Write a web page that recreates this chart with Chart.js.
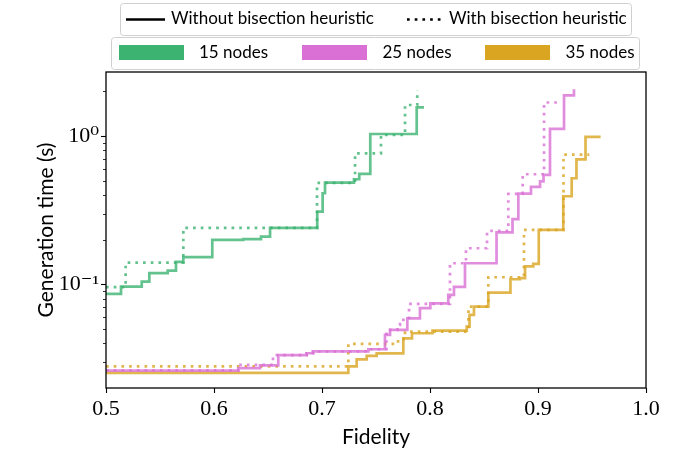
<!DOCTYPE html>
<html>
<head>
<meta charset="utf-8">
<script src="https://cdn.jsdelivr.net/npm/chart.js@4.4.0/dist/chart.umd.min.js"></script>
<style>
	html, body { margin: 0; padding: 0; background: #fff; }
</style>
</head>
<body>
<canvas id="chart" width="681" height="457"></canvas>
<script>
	// fidelity (x) / generation time in seconds (y), step points
	var fid15Without = [0.5, 0.5139, 0.5331, 0.5401, 0.5571, 0.5648, 0.5716, 0.5984, 0.6271, 0.6435, 0.6519, 0.6956, 0.7006, 0.7028, 0.7296, 0.7345, 0.7447, 0.7877, 0.7944];
	var time15Without = [0.0861, 0.0965, 0.1043, 0.1188, 0.1237, 0.1416, 0.1523, 0.1991, 0.2014, 0.2097, 0.2399, 0.309, 0.411, 0.4846, 0.5108, 0.5546, 1.031, 1.561, 1.561];
	var fid15With = [0.5, 0.5182, 0.5716, 0.6954, 0.7306, 0.7546, 0.7769, 0.7882];
	var time15With = [0.0956, 0.14, 0.2399, 0.4824, 0.7645, 1.0156, 1.618, 2.042];

	var fid25Without = [0.5, 0.6225, 0.6426, 0.6595, 0.6858, 0.6917, 0.7429, 0.7583, 0.763, 0.779, 0.7907, 0.8003, 0.8169, 0.8222, 0.8324, 0.8616, 0.8764, 0.8818, 0.8935, 0.9019, 0.9051, 0.9111, 0.9241, 0.9333];
	var time25Without = [0.0262, 0.0272, 0.0284, 0.0333, 0.0343, 0.0353, 0.0365, 0.0456, 0.0493, 0.0589, 0.069, 0.0743, 0.0848, 0.096, 0.1387, 0.2237, 0.275, 0.4086, 0.4532, 0.495, 0.546, 1.115, 1.881, 2.067];
	var fid25With = [0.5, 0.6225, 0.6546, 0.6858, 0.6917, 0.7429, 0.7597, 0.7699, 0.7722, 0.7806, 0.8185, 0.8333, 0.8528, 0.8725, 0.8858, 0.9056, 0.9204];
	var time25With = [0.0263, 0.0286, 0.0333, 0.0343, 0.0353, 0.0365, 0.0493, 0.0533, 0.0576, 0.0738, 0.1387, 0.1751, 0.229, 0.4066, 0.552, 1.682, 1.682];

	var fid35Without = [0.5, 0.7244, 0.7321, 0.7414, 0.7506, 0.7753, 0.7833, 0.8023, 0.834, 0.8366, 0.8407, 0.854, 0.8745, 0.8833, 0.888, 0.8956, 0.9007, 0.9234, 0.9312, 0.9356, 0.944, 0.958];
	var time35Without = [0.0253, 0.028, 0.0312, 0.0329, 0.0342, 0.0432, 0.0468, 0.0488, 0.0519, 0.0622, 0.0707, 0.0878, 0.1082, 0.11, 0.132, 0.1372, 0.2325, 0.3924, 0.5188, 0.6966, 0.985, 0.985];
	var fid35With = [0.5, 0.7244, 0.7704, 0.7769, 0.8356, 0.854, 0.887, 0.9236, 0.9475];
	var time35With = [0.028, 0.0397, 0.0427, 0.048, 0.0707, 0.1116, 0.2325, 0.748, 0.748];

	var nodeLabels = ['15 nodes', '25 nodes', '35 nodes'];
	var styleLabels = ['Without bisection heuristic', 'With bisection heuristic'];
	var xTicks = [0.5, 0.6, 0.7, 0.8, 0.9, 1.0];
	var yTicks = [0.03, 0.04, 0.05, 0.06, 0.07, 0.08, 0.09, 0.1, 0.2, 0.3, 0.4, 0.5, 0.6, 0.7, 0.8, 0.9, 1, 2];

	var SANS = 'Lato, "Liberation Sans", sans-serif';
	var SERIF = '"Liberation Serif", "DejaVu Serif", serif';
	var colors = ['rgba(60, 179, 113, 0.8)', 'rgba(218, 112, 214, 0.8)', 'rgba(218, 165, 32, 0.8)'];
	var patchColors = ['#3cb371', '#da70d6', '#daa520'];
	var DOTS = [2.7, 5];

	var toPoints = function(xs, ys) {
		return xs.map(function(x, i) { return { x: x, y: ys[i] }; });
	};

	var makeSet = function(label, xs, ys, color, dotted) {
		return {
			label: label,
			data: toPoints(xs, ys),
			borderColor: color,
			borderWidth: 2.7,
			borderDash: dotted ? DOTS : [],
			borderCapStyle: 'butt',
			borderJoinStyle: 'miter',
			stepped: 'before',
			pointRadius: 0,
			fill: false
		};
	};

	var isPow10 = function(v) {
		var l = Math.log10(v);
		return Math.abs(l - Math.round(l)) < 1e-6;
	};

	var roundBox = function(ctx, x, y, w, h, r) {
		ctx.beginPath();
		ctx.moveTo(x + r, y);
		ctx.lineTo(x + w - r, y);
		ctx.arcTo(x + w, y, x + w, y + r, r);
		ctx.lineTo(x + w, y + h - r);
		ctx.arcTo(x + w, y + h, x + w - r, y + h, r);
		ctx.lineTo(x + r, y + h);
		ctx.arcTo(x, y + h, x, y + h - r, r);
		ctx.lineTo(x, y + r);
		ctx.arcTo(x, y, x + r, y, r);
		ctx.closePath();
	};

	/**
	 * frame, tick marks and the two legend boxes
	 */
	var framePlugin = {
		id: 'frame',
		afterDraw: function(chart) {
			var ctx = chart.ctx;
			var a = chart.chartArea;
			var sx = chart.scales.x;
			var sy = chart.scales.y;
			ctx.save();
			ctx.strokeStyle = '#000';
			ctx.lineWidth = 1.3;
			ctx.strokeRect(a.left, a.top, a.right - a.left, a.bottom - a.top);

			sx.ticks.forEach(function(t, i) {
				var px = Math.round(sx.getPixelForTick(i)) + 0.5;
				ctx.lineWidth = 1.1;
				ctx.beginPath();
				ctx.moveTo(px, a.bottom);
				ctx.lineTo(px, a.bottom + 5);
				ctx.stroke();
			});
			sy.ticks.forEach(function(t, i) {
				var py = Math.round(sy.getPixelForTick(i)) + 0.5;
				var major = isPow10(t.value);
				ctx.lineWidth = major ? 1.1 : 0.8;
				ctx.beginPath();
				ctx.moveTo(a.left, py);
				ctx.lineTo(a.left - (major ? 5 : 3), py);
				ctx.stroke();
			});

			// legend: line styles
			ctx.lineWidth = 1;
			ctx.strokeStyle = '#d0d0d0';
			ctx.fillStyle = '#fff';
			roundBox(ctx, 120.5, 3.5, 511, 32, 3);
			ctx.fill();
			ctx.stroke();
			roundBox(ctx, 111.5, 37.5, 528, 32, 3);
			ctx.fill();
			ctx.stroke();

			ctx.strokeStyle = '#000';
			ctx.lineWidth = 2.7;
			ctx.beginPath();
			ctx.moveTo(126, 19.5);
			ctx.lineTo(165, 19.5);
			ctx.stroke();
			ctx.setLineDash(DOTS);
			ctx.beginPath();
			ctx.moveTo(407, 19.5);
			ctx.lineTo(441, 19.5);
			ctx.stroke();
			ctx.setLineDash([]);

			ctx.fillStyle = '#000';
			ctx.font = '17px ' + SANS;
			ctx.textAlign = 'left';
			ctx.textBaseline = 'middle';
			ctx.fillText(styleLabels[0], 171, 19);
			ctx.fillText(styleLabels[1], 449, 19);

			// legend: node counts
			var patchX = [119, 302, 485];
			var textX = [199, 382.5, 565.5];
			nodeLabels.forEach(function(lbl, i) {
				ctx.fillStyle = patchColors[i];
				ctx.fillRect(patchX[i], 45, 65, 15);
				ctx.fillStyle = '#000';
				ctx.fillText(lbl, textX[i], 53);
			});
			ctx.restore();
		}
	};

	var datasets = [
		makeSet('15 nodes', fid15Without, time15Without, colors[0], false),
		makeSet('15 nodes (bisection)', fid15With, time15With, colors[0], true),
		makeSet('25 nodes', fid25Without, time25Without, colors[1], false),
		makeSet('25 nodes (bisection)', fid25With, time25With, colors[1], true),
		makeSet('35 nodes', fid35Without, time35Without, colors[2], false),
		makeSet('35 nodes (bisection)', fid35With, time35With, colors[2], true)
	];

	var myChart = new Chart(document.getElementById('chart'), {
		type: 'line',
		data: { datasets: datasets },
		options: {
			responsive: false,
			animation: false,
			devicePixelRatio: 1,
			layout: { padding: { left: 0, right: 35, top: 72, bottom: 0 } },
			plugins: {
				legend: { display: false },
				tooltip: { enabled: false }
			},
			scales: {
				x: {
					type: 'linear',
					min: 0.5,
					max: 1.0,
					afterBuildTicks: function(axis) {
						axis.ticks = xTicks.map(function(v) { return { value: v }; });
					},
					afterFit: function(scale) { scale.height = 69; },
					grid: { display: false, drawTicks: false },
					border: { display: false },
					ticks: {
						color: '#000',
						font: { family: SERIF, size: 22 },
						padding: 8,
						maxRotation: 0,
						autoSkip: false,
						callback: function(v) { return Number(v).toFixed(1); }
					},
					title: {
						display: true,
						text: 'Fidelity',
						color: '#000',
						font: { family: SANS, size: 21 },
						padding: { top: 0, bottom: 7 }
					}
				},
				y: {
					type: 'logarithmic',
					min: 0.02,
					max: 2.7,
					afterBuildTicks: function(axis) {
						axis.ticks = yTicks.map(function(v) { return { value: v, major: isPow10(v) }; });
					},
					afterFit: function(scale) { scale.width = 106; },
					grid: { display: false, drawTicks: false },
					border: { display: false },
					ticks: {
						color: '#000',
						font: { family: SERIF, size: 22 },
						padding: 7,
						autoSkip: false,
						callback: function(v) {
							if (Math.abs(v - 1) < 1e-9) return '10\u2070';
							if (Math.abs(v - 0.1) < 1e-9) return '10\u207B\u00B9';
							return '';
						}
					},
					title: {
						display: true,
						text: 'Generation time (s)',
						color: '#000',
						font: { family: SANS, size: 21 },
						padding: { top: 34, bottom: 0 }
					}
				}
			}
		},
		plugins: [framePlugin]
	});
</script>
</body>
</html>
